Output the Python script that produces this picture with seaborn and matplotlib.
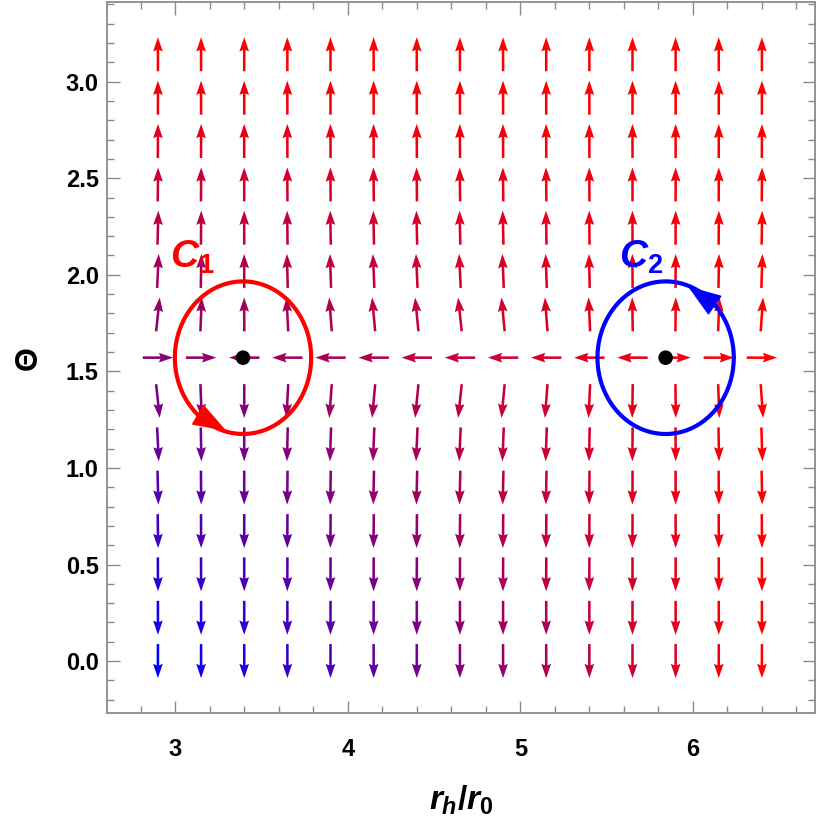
import numpy as np
import pandas as pd
import seaborn as sns
import matplotlib
matplotlib.use("Agg")
import matplotlib.pyplot as plt
from matplotlib.ticker import MultipleLocator, FixedLocator
from matplotlib.patches import FancyArrowPatch

# ---------------- data ----------------
# grid of the vector field
r_cols = [2.90, 3.15, 3.40, 3.65, 3.90, 4.15, 4.40, 4.65, 4.90, 5.15, 5.40, 5.65, 5.90, 6.15, 6.40]
theta_rows = [0.000, 0.224, 0.449, 0.673, 0.898, 1.122, 1.346, 1.571,
              1.795, 2.020, 2.244, 2.468, 2.693, 2.917, 3.142]
# field components: phi_r per column, phi_theta per row
phi_r = [0.028, 0.010, -0.001, -0.013, -0.020, -0.024, -0.026, -0.028,
         -0.025, -0.020, -0.012, -0.004, 0.003, 0.010, 0.019]
phi_theta = [-1000.0, -19.69, -4.79, -2.01, -1.02, -0.534, -0.234, 0.0,
             0.234, 0.534, 1.02, 2.01, 4.79, 19.69, 1000.0]
# colour blend factors (blue -> red) per column and per row
col_blend = [0.00, 0.06, 0.13, 0.20, 0.28, 0.36, 0.44, 0.52, 0.59, 0.66, 0.73, 0.80, 0.87, 0.94, 1.00]
row_blend = [0.00, 0.08, 0.17, 0.25, 0.33, 0.40, 0.47, 0.53, 0.58, 0.64, 0.71, 0.79, 0.88, 0.95, 1.00]

# zero points (defects) and contours
defect_r = [3.393, 5.842]
defect_theta = [1.5708, 1.5708]
contour_colors = ["#ff0000", "#0000ff"]
contour_radius = [0.395, 0.395]

# ---------------- build table ----------------
rows = []
for j, th in enumerate(theta_rows):
    for i, r in enumerate(r_cols):
        rows.append(dict(r=r, theta=th, u=phi_r[i], v=phi_theta[j],
                         t=1 - (1 - col_blend[i]) * (1 - row_blend[j])))
df = pd.DataFrame(rows)
L = 0.176
norm = np.hypot(df.u, df.v)
df["U"] = df.u / norm * L
df["V"] = df.v / norm * L
colors = [(t, 0.0, 1.0 - t) for t in df.t]

# ---------------- style ----------------
sns.set_theme(style="white")
plt.rcParams["font.family"] = ["Liberation Sans", "DejaVu Sans"]
plt.rcParams["mathtext.fontset"] = "custom"
plt.rcParams["mathtext.it"] = "Liberation Sans:italic:bold"
plt.rcParams["mathtext.rm"] = "Liberation Sans:bold"
plt.rcParams["mathtext.bf"] = "Liberation Sans:bold"
plt.rcParams["text.color"] = "black"
plt.rcParams["axes.labelcolor"] = "black"
plt.rcParams["xtick.labelcolor"] = "black"
plt.rcParams["ytick.labelcolor"] = "black"

fig = plt.figure(figsize=(8.17, 8.17), dpi=100)
ax = fig.add_axes([0.131, 0.127, 0.866, 0.870])

ax.quiver(df.r, df.theta, df.U, df.V, color=colors, angles="xy",
          scale_units="xy", scale=1, pivot="middle", width=0.0036,
          headwidth=3.8, headlength=5.6, headaxislength=5.0, zorder=2)

# contours
s = np.linspace(0, 2 * np.pi, 400)
head_angles = [(228, 258), (43, 73)]
for k in range(2):
    cx, cy, rr = defect_r[k], defect_theta[k], contour_radius[k]
    ax.plot(cx + rr * np.cos(s), cy + rr * np.sin(s), color=contour_colors[k], lw=3, zorder=3)
    a0, a1 = np.deg2rad(head_angles[k][0]), np.deg2rad(head_angles[k][1])
    base = (cx + rr * np.cos(a0), cy + rr * np.sin(a0))
    tip = (cx + rr * np.cos(a1), cy + rr * np.sin(a1))
    ax.add_patch(FancyArrowPatch(base, tip, arrowstyle="-|>,head_length=1.0,head_width=0.35",
                                 mutation_scale=22, color=contour_colors[k], lw=1, zorder=4))

sns.scatterplot(x=defect_r, y=defect_theta, color="black", s=110, edgecolor="none",
                ax=ax, zorder=5, legend=False)

ax.text(3.10, 2.09, r"$C_1$", color=contour_colors[0], fontsize=28, ha="center", va="center")
ax.text(5.70, 2.09, r"$C_2$", color=contour_colors[1], fontsize=28, ha="center", va="center")

# axes
ax.set_xlim(2.605, 6.705)
ax.set_ylim(-0.27, 3.41)
ax.xaxis.set_major_locator(FixedLocator([3, 4, 5, 6]))
ax.xaxis.set_minor_locator(MultipleLocator(0.2))
ax.yaxis.set_major_locator(FixedLocator([0.0, 0.5, 1.0, 1.5, 2.0, 2.5, 3.0]))
ax.yaxis.set_minor_locator(MultipleLocator(0.1))
ax.set_xticklabels(["3", "4", "5", "6"])
ax.set_yticklabels(["0.0", "0.5", "1.0", "1.5", "2.0", "2.5", "3.0"])
ax.tick_params(which="both", direction="in", top=True, right=True, bottom=True, left=True,
               color="#8a8a8a", labelsize=17)
ax.tick_params(axis="x", which="major", pad=18)
ax.tick_params(axis="y", which="major", pad=6)
ax.tick_params(which="major", length=9, width=1.0)
ax.tick_params(which="minor", length=5, width=1.0)
for lab in ax.get_xticklabels() + ax.get_yticklabels():
    lab.set_fontweight("bold")
for sp in ax.spines.values():
    sp.set_color("#8a8a8a")
    sp.set_linewidth(1.3)

ax.set_xlabel(r"$r_h/r_0$", fontsize=24, labelpad=16)
ax.set_ylabel("Θ", fontsize=22, fontweight="bold", labelpad=16)

fig.savefig("out.png", dpi=100, facecolor="white")
